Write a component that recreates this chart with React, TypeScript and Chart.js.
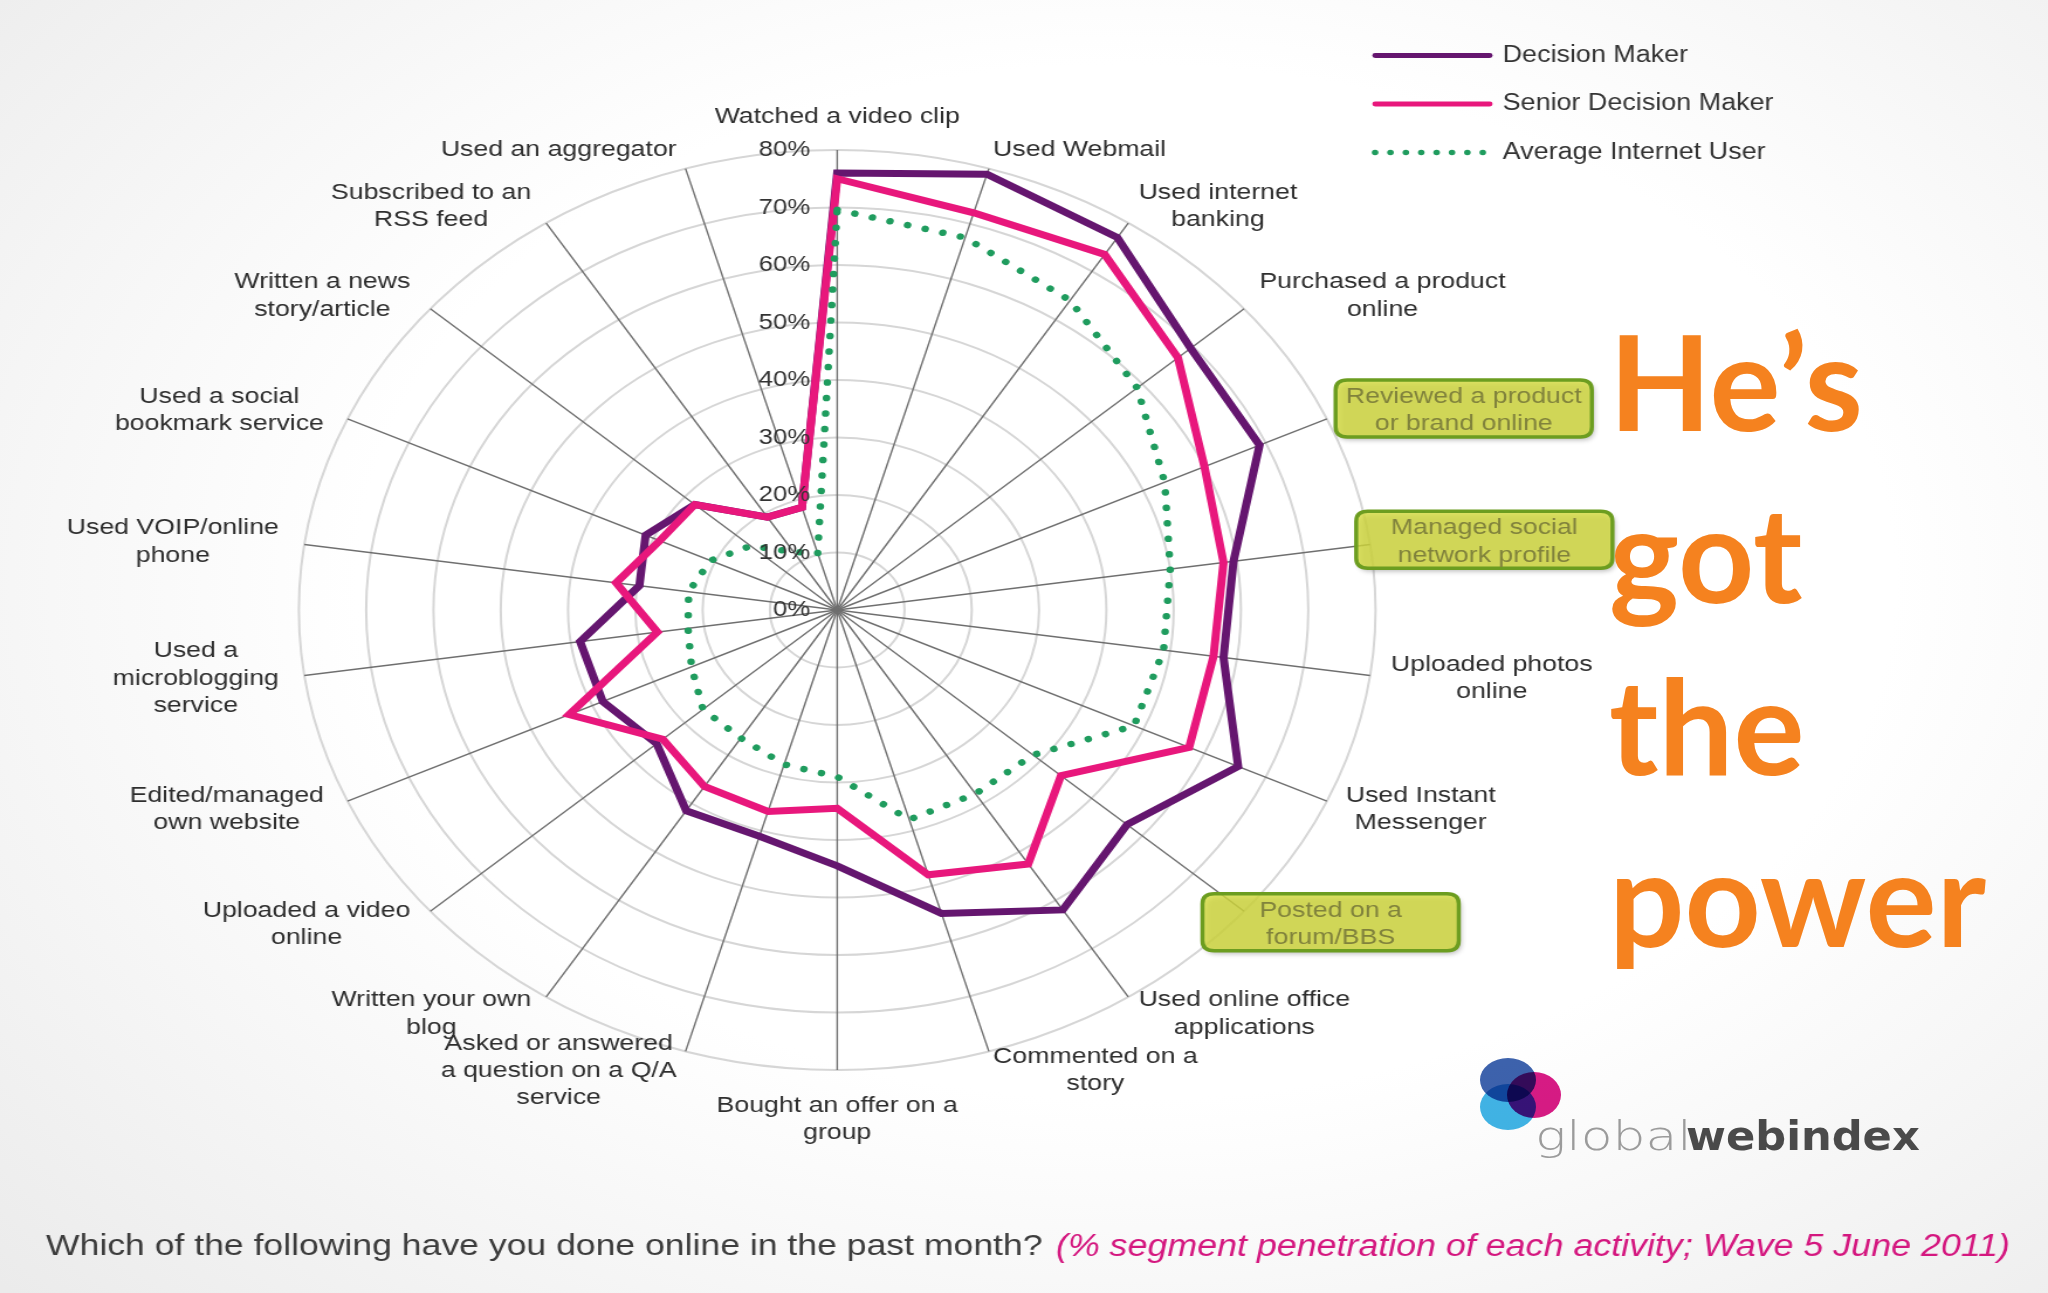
import React, { useEffect, useRef } from "react";
import { Chart, registerables } from "chart.js";

Chart.register(...registerables);

// ---------- data ----------
const categories: string[][] = [
  ["Watched a video clip"],
  ["Used Webmail"],
  ["Used internet", "banking"],
  ["Purchased a product", "online"],
  ["Reviewed a product", "or brand online"],
  ["Managed social", "network profile"],
  ["Uploaded photos", "online"],
  ["Used Instant", "Messenger"],
  ["Posted on a", "forum/BBS"],
  ["Used online office", "applications"],
  ["Commented on a", "story"],
  ["Bought an offer on a", "group"],
  ["Asked or answered", "a question on a Q/A", "service"],
  ["Written your own", "blog"],
  ["Uploaded a video", "online"],
  ["Edited/managed", "own website"],
  ["Used a", "microblogging", "service"],
  ["Used VOIP/online", "phone"],
  ["Used a social", "bookmark service"],
  ["Written a news", "story/article"],
  ["Subscribed to an", "RSS feed"],
  ["Used an aggregator"],
];

const decisionMaker = [76, 79, 77, 69.5, 69, 59.5, 58, 65.5, 57, 62, 55, 44.5, 41, 41.5, 35.5, 38.3, 38.6, 29.7, 31.3, 28, 19.2, 18.6];
const seniorDecisionMaker = [75, 72, 73.5, 67, 60, 58, 56.5, 57.5, 44, 52.5, 48, 34.5, 36.5, 36.5, 34.3, 43.8, 27, 33.2, 29, 28, 19.2, 18.6];
const averageInternetUser = [69.6, 67.5, 64, 59, 53.5, 50, 49, 48.5, 38.5, 38, 38, 29, 28, 26.5, 26.4, 23.8, 22.4, 22.3, 20.7, 17, 12, 10.3];

const seriesLabels = ["Decision Maker", "Senior Decision Maker", "Average Internet User"];
const tickValues = [0, 10, 20, 30, 40, 50, 60, 70, 80];
const highlightedCategories = [4, 5, 8];
const questionText = "Which of the following have you done online in the past month?";
const noteText = "(% segment penetration of each activity; Wave 5 June 2011)";
const headlineLines = ["He\u2019s", "got", "the", "power"];
const logoLight = "global";
const logoBold = "webindex";

// ---------- layout / style ----------
const PAGE_W = 2048;
const PAGE_H = 1293;
const STRETCH = 1.17;
const CANVAS_W = Math.round(PAGE_W / STRETCH);
const CENTER_X = 837 / STRETCH;
const CENTER_Y = 610;
const RADIUS = 460;
const LABEL_DIST = 480;
const LABEL_SHIFT_X = -2;
const FONT = '"Liberation Sans", Arial, Helvetica, sans-serif';
const PURPLE = "#65166f";
const PINK = "#e8177c";
const GREEN = "#1f9c5e";
const SERIES_COLORS = [PURPLE, PINK, GREEN];

function roundRectPath(ctx: CanvasRenderingContext2D, x: number, y: number, w: number, h: number, r: number) {
  ctx.beginPath();
  ctx.moveTo(x + r, y);
  ctx.lineTo(x + w - r, y);
  ctx.quadraticCurveTo(x + w, y, x + w, y + r);
  ctx.lineTo(x + w, y + h - r);
  ctx.quadraticCurveTo(x + w, y + h, x + w - r, y + h);
  ctx.lineTo(x + r, y + h);
  ctx.quadraticCurveTo(x, y + h, x, y + h - r);
  ctx.lineTo(x, y + r);
  ctx.quadraticCurveTo(x, y, x + r, y);
  ctx.closePath();
}

const overlayPlugin = {
  id: "overlay",
  afterDraw(chart: any) {
    const ctx: CanvasRenderingContext2D = chart.ctx;
    const scale = chart.scales.r;
    const n = categories.length;
    ctx.save();

    // category label blocks
    const LH = 27.2;
    ctx.font = `22.8px ${FONT}`;
    const blocks = categories.map((lines, i) => {
      const p = scale.getPointPosition(i, LABEL_DIST);
      const deg = Math.round(((i * 360) / n) * 1000) / 1000;
      const w = Math.max(...lines.map((l) => ctx.measureText(l).width));
      const h = lines.length * LH;
      let cx: number;
      if (deg === 0 || deg === 180) cx = p.x;
      else if (deg < 180) cx = p.x + w / 2 + LABEL_SHIFT_X;
      else cx = p.x - w / 2 + LABEL_SHIFT_X;
      let top: number;
      if (deg === 0) top = p.y - h;
      else if (deg === 180) top = p.y + 2;
      else top = p.y - h / 2;
      return { lines, cx, top, w, h };
    });

    // highlight boxes
    highlightedCategories.forEach((i) => {
      const b = blocks[i];
      const bw = 219;
      const bh = 57;
      const x = b.cx - bw / 2;
      const y = b.top + b.h / 2 - bh / 2 - 2;
      ctx.save();
      ctx.shadowColor = "rgba(0,0,0,0.35)";
      ctx.shadowBlur = 5;
      ctx.shadowOffsetX = 2;
      ctx.shadowOffsetY = 3;
      roundRectPath(ctx, x, y, bw, bh, 10);
      ctx.fillStyle = "rgba(214,221,62,0.8)";
      ctx.fill();
      ctx.restore();
      roundRectPath(ctx, x, y, bw, bh, 10);
      ctx.strokeStyle = "#6c9d20";
      ctx.lineWidth = 3.5;
      ctx.stroke();
    });

    ctx.textAlign = "center";
    ctx.textBaseline = "middle";
    ctx.font = `22.8px ${FONT}`;
    blocks.forEach((b, i) => {
      ctx.fillStyle = highlightedCategories.includes(i) ? "#80823c" : "#2e2e2e";
      b.lines.forEach((l, k) => ctx.fillText(l, b.cx, b.top + LH * (k + 0.5)));
    });

    // tick labels
    ctx.font = `22px ${FONT}`;
    ctx.textAlign = "right";
    ctx.fillStyle = "#333";
    tickValues.forEach((v) => {
      const p = scale.getPointPositionForValue(0, v);
      ctx.fillText(`${v}%`, scale.xCenter - 23, p.y);
    });

    // legend
    const legX1 = 1175;
    const legX2 = 1273;
    const legTextX = 1284;
    const legY0 = 55.5;
    const legStep = 48.5;
    ctx.font = `23px ${FONT}`;
    ctx.textAlign = "left";
    seriesLabels.forEach((lab, i) => {
      const y = legY0 + i * legStep;
      const ds = chart.data.datasets[i];
      if (ds.borderDash && ds.borderDash.length) {
        ctx.fillStyle = ds.borderColor;
        const count = 8;
        for (let k = 0; k < count; k++) {
          const x = legX1 + ((legX2 - 6 - legX1) * k) / (count - 1);
          ctx.beginPath();
          ctx.arc(x, y, 2.8, 0, Math.PI * 2);
          ctx.fill();
        }
      } else {
        ctx.strokeStyle = ds.borderColor;
        ctx.lineWidth = 4.8;
        ctx.lineCap = "round";
        ctx.beginPath();
        ctx.moveTo(legX1, y);
        ctx.lineTo(legX2, y);
        ctx.stroke();
      }
      ctx.fillStyle = "#333";
      ctx.fillText(lab, legTextX, y);
    });

    // caption
    const capY = 1247;
    const capX = 39.3;
    ctx.font = `30.4px ${FONT}`;
    ctx.fillStyle = "#3c3c3c";
    ctx.textAlign = "left";
    ctx.fillText(questionText, capX, capY);
    const w1 = ctx.measureText(questionText + " ").width;
    ctx.font = `italic 30.6px ${FONT}`;
    ctx.fillStyle = "#d4177f";
    ctx.fillText(noteText, capX + w1 + 3, capY);

    ctx.restore();
  },
};

export default function App() {
  const canvasRef = useRef<HTMLCanvasElement | null>(null);

  useEffect(() => {
    const canvas = canvasRef.current;
    if (!canvas) return;
    const chart = new Chart(canvas, {
      type: "radar",
      data: {
        labels: categories,
        datasets: [
          {
            label: seriesLabels[0],
            data: decisionMaker,
            borderColor: SERIES_COLORS[0],
            backgroundColor: "transparent",
            borderWidth: 7,
            borderJoinStyle: "miter",
            fill: false,
            pointRadius: 0,
            order: 3,
          },
          {
            label: seriesLabels[1],
            data: seniorDecisionMaker,
            borderColor: SERIES_COLORS[1],
            backgroundColor: "transparent",
            borderWidth: 7,
            borderJoinStyle: "miter",
            fill: false,
            pointRadius: 0,
            order: 2,
          },
          {
            label: seriesLabels[2],
            data: averageInternetUser,
            borderColor: SERIES_COLORS[2],
            backgroundColor: "transparent",
            borderWidth: 6.5,
            borderDash: [0.01, 15.5],
            borderCapStyle: "round",
            fill: false,
            pointRadius: 0,
            order: 1,
          },
        ] as any,
      },
      options: {
        responsive: false,
        maintainAspectRatio: false,
        animation: false,
        devicePixelRatio: 1,
        layout: { padding: 0 },
        elements: { line: { tension: 0 } },
        plugins: {
          legend: { display: false },
          tooltip: { enabled: false },
          title: { display: false },
        },
        scales: {
          r: {
            min: 0,
            max: 80,
            startAngle: 0,
            ticks: { display: false, stepSize: 10 },
            pointLabels: { display: false },
            grid: { circular: true, color: "#d6d6d6", lineWidth: 2 },
            angleLines: { color: "#6f6f6f", lineWidth: 1.4 },
            afterFit: (s: any) => {
              s.xCenter = CENTER_X;
              s.yCenter = CENTER_Y;
              s.drawingArea = RADIUS;
            },
          } as any,
        },
      },
      plugins: [overlayPlugin],
    });
    return () => chart.destroy();
  }, []);

  return (
    <div
      style={{
        position: "absolute",
        left: 0,
        top: 0,
        width: PAGE_W,
        height: PAGE_H,
        overflow: "hidden",
        background: "radial-gradient(ellipse 75% 80% at 55% 45%, #ffffff 50%, #ebebeb 100%)",
      }}
    >
      <canvas
        ref={canvasRef}
        width={CANVAS_W}
        height={PAGE_H}
        style={{ position: "absolute", left: 0, top: 0, width: PAGE_W, height: PAGE_H }}
      />
      <div
        style={{
          position: "absolute",
          left: 1609,
          top: 294,
          fontFamily: 'Lato, "Open Sans", sans-serif',
          fontWeight: 700,
          fontSize: 133,
          lineHeight: "172px",
          color: "#f5821f",
          whiteSpace: "nowrap",
        }}
      >
        {headlineLines.map((l, i) => (
          <div key={i}>{l}</div>
        ))}
      </div>
      {/* logo */}
      <div style={{ position: "absolute", left: 1480, top: 1084, width: 56, height: 46, borderRadius: "50%", background: "#41b4e6", mixBlendMode: "multiply" }} />
      <div style={{ position: "absolute", left: 1480, top: 1058, width: 56, height: 44, borderRadius: "50%", background: "#3d62ad", mixBlendMode: "multiply" }} />
      <div style={{ position: "absolute", left: 1507, top: 1072, width: 54, height: 46, borderRadius: "50%", background: "#d81b85", mixBlendMode: "multiply" }} />
      <div
        style={{
          position: "absolute",
          left: 1535,
          top: 1116,
          fontFamily: '"DejaVu Sans", sans-serif',
          fontSize: 40,
          lineHeight: 1,
          fontWeight: 200,
          color: "#9b9b9b",
          whiteSpace: "nowrap",
          transform: "scaleX(1.3)",
          transformOrigin: "left top",
        }}
      >
        {logoLight}
      </div>
      <div
        style={{
          position: "absolute",
          left: 1686,
          top: 1116,
          fontFamily: '"DejaVu Sans", sans-serif',
          fontSize: 40,
          lineHeight: 1,
          fontWeight: 700,
          color: "#4a4a4a",
          whiteSpace: "nowrap",
          transform: "scaleX(1.08)",
          transformOrigin: "left top",
        }}
      >
        {logoBold}
      </div>
    </div>
  );
}
